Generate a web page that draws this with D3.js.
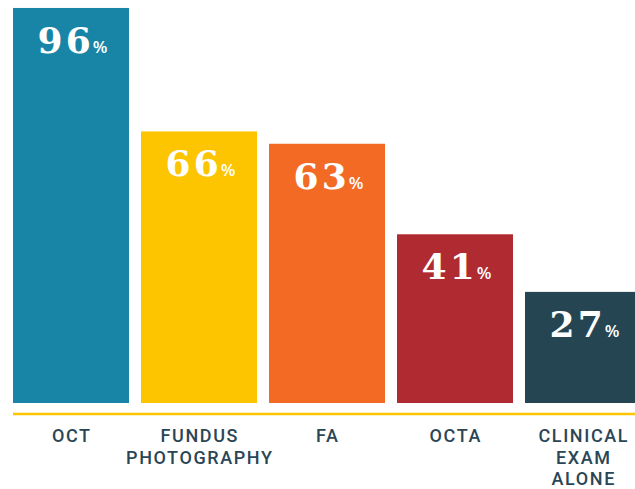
<!DOCTYPE html>
<html><head><meta charset="utf-8">
<script src="https://cdn.jsdelivr.net/npm/d3@7"></script>
<style>html,body{margin:0;padding:0;background:#fff;overflow:hidden}</style>
</head><body>
<script>
const categories = [["OCT"],["FUNDUS","PHOTOGRAPHY"],["FA"],["OCTA"],["CLINICAL","EXAM","ALONE"]];
const keys = ["OCT","FUNDUS","FA","OCTA","CLINICAL"];
const values = [96, 66, 63, 41, 27];
const colors = ["#1985a6","#fdc400","#f26a24","#b02a32","#264553"];

const W = 635, H = 489;
const svg = d3.select("body").append("svg").attr("width", W).attr("height", H);

const x = d3.scaleBand().domain(keys).range([13, 641]).paddingInner(12/128).paddingOuter(0);
const y = d3.scaleLinear().domain([0, 100]).range([403, -8.5]);

svg.selectAll("rect.bar").data(values).join("rect")
  .attr("class","bar")
  .attr("x",(d,i)=>x(keys[i])).attr("width", x.bandwidth())
  .attr("y", d=>y(d)).attr("height", d=>y(0)-y(d))
  .attr("fill",(d,i)=>colors[i]);

svg.append("line").attr("x1",13).attr("x2",W).attr("y1",414).attr("y2",414)
  .attr("stroke","#fdc400").attr("stroke-width",2.5);

const vt = svg.selectAll("text.val").data(values).join("text")
  .attr("class","val")
  .attr("x",(d,i)=>x(keys[i])+x.bandwidth()/2 + 1.5)
  .attr("y", d=>y(d)+45)
  .attr("text-anchor","middle")
  .attr("fill","#fff")
  .style("font-family","'DejaVu Serif', serif").style("font-weight","bold");
vt.append("tspan").text(d=>d).style("font-size","36px").style("letter-spacing","3px");
vt.append("tspan").text("%").style("font-size","17px").style("font-family","'Open Sans', sans-serif").style("font-weight","600").attr("dx",-1);

const lt = svg.selectAll("text.cat").data(categories).join("text")
  .attr("class","cat")
  .attr("x",(d,i)=>x(keys[i])+x.bandwidth()/2 + 0.8)
  .attr("y",442)
  .attr("text-anchor","middle")
  .attr("fill","#2a4656")
  .style("font-family","Roboto, sans-serif").style("font-weight","500").style("font-size","18px").style("letter-spacing","1.6px");
lt.selectAll("tspan").data(d=>d).join("tspan")
  .attr("x",function(){return this.parentNode.getAttribute("x");})
  .attr("dy",(d,i)=>i===0?0:21.5)
  .text(d=>d);
</script>
</body></html>
